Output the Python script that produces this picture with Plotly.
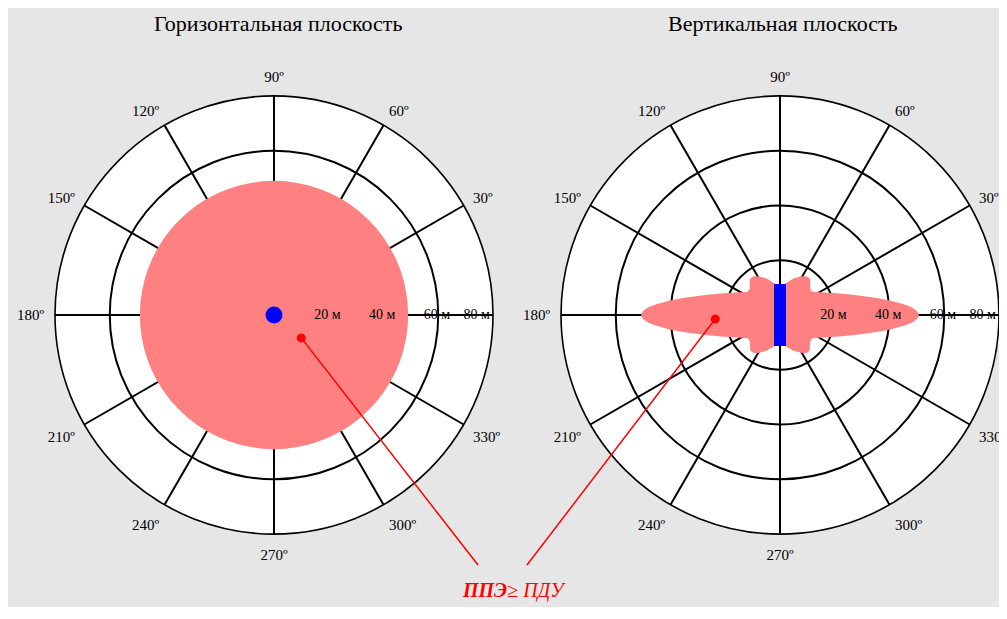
import math
import plotly.graph_objects as go

# ---------------- data ----------------
left_title = "Горизонтальная плоскость"
right_title = "Вертикальная плоскость"
note_text = "<b><i>ППЭ</i></b>≥ <i>ПДУ</i>"

angle_ticks = [0, 30, 60, 90, 120, 150, 180, 210, 240, 270, 300, 330]
angle_labels = ["", "30º", "60º", "90º", "120º", "150º", "180º", "210º", "240º", "270º", "300º", "330º"]
radial_ticks = [20, 40, 60, 80]
radial_labels = ["20 м", "40 м", "60 м", "80 м"]
radial_label_r = [19.5, 39.5, 59.5, 74]
radial_max = 80

# horizontal plane: zone where PPE >= PDU (circle, ~49 m)
h_theta = list(range(0, 361, 5))
h_r = [49] * len(h_theta)

# vertical plane: zone where PPE >= PDU (metres at each angle)
v_theta = [0, 1, 2, 3, 4, 5, 7.5, 10, 15, 20, 25, 30, 35, 40, 45, 50, 55, 60, 65, 70, 75, 80, 85,
           90,
           95, 100, 105, 110, 115, 120, 125, 130, 135, 140, 145, 150, 155, 160, 165, 170, 172.5, 175, 176, 177, 178, 179,
           180,
           181, 182, 183, 184, 185, 187.5, 190, 195, 200, 205, 210, 215, 220, 225, 230, 235, 240, 245, 250, 255, 260, 265,
           270,
           275, 280, 285, 290, 295, 300, 305, 310, 315, 320, 325, 330, 335, 340, 345, 350, 352.5, 355, 356, 357, 358, 359,
           360]
v_r = [50.7, 50.45, 49.7, 48.6, 47.1, 45.3, 40.6, 35.9, 28.3, 23.0, 19.3, 16.7, 14.7, 14.5, 15.6, 17.2, 17.2, 16.3, 15.2, 14.2, 12.8, 11.8, 11.2,
       11.0,
       11.2, 11.8, 12.8, 14.2, 15.2, 16.3, 17.2, 17.2, 15.6, 14.5, 14.7, 16.7, 19.3, 23.0, 28.3, 35.9, 40.6, 45.3, 47.1, 48.6, 49.7, 50.45,
       50.7,
       50.45, 49.7, 48.6, 47.1, 45.3, 40.6, 35.9, 28.3, 23.0, 19.3, 16.7, 14.7, 14.5, 15.5, 16.9, 16.9, 16.0, 14.8, 13.8, 12.5, 11.6, 11.1,
       11.0,
       11.1, 11.6, 12.5, 13.8, 14.8, 16.0, 16.9, 16.9, 15.5, 14.5, 14.7, 16.7, 19.3, 23.0, 28.3, 35.9, 40.6, 45.3, 47.1, 48.6, 49.7, 50.45,
       50.7]

# antenna (vertical plane) half-length, m
antenna_r = [11.3, 0, 11.3]
antenna_theta = [90, 0, 270]

# pointer dots (r in m, theta in deg)
h_point = (13, 320)
v_point = (23.7, 183.6)

# ---------------- layout geometry (figure pixels) ----------------
W, H = 999, 599
R_px = 219
centers_px = [(266, 307), (772, 307)]
note_px = (506, 582)
left_leader_end_px = (470, 557)
right_leader_end_px = (519, 557)

def domain(cx, cy):
    return dict(x=[(cx - R_px) / W, (cx + R_px) / W],
                y=[1 - (cy + R_px) / H, 1 - (cy - R_px) / H])

def px_to_paper(p):
    return p[0] / W, 1 - p[1] / H

fill_col = "rgb(255,128,128)"
serif = "Liberation Serif"

fig = go.Figure()

# horizontal plane
fig.add_trace(go.Scatterpolar(r=h_r, theta=h_theta, mode="lines", fill="toself",
                              fillcolor=fill_col, line=dict(width=0, color=fill_col),
                              subplot="polar", hoverinfo="skip"))
fig.add_trace(go.Scatterpolar(r=[0], theta=[0], mode="markers",
                              marker=dict(size=17, color="blue"), subplot="polar"))
fig.add_trace(go.Scatterpolar(r=[h_point[0]], theta=[h_point[1]], mode="markers",
                              marker=dict(size=9, color="red"), subplot="polar"))
fig.add_trace(go.Scatterpolar(r=radial_label_r, theta=[0] * len(radial_label_r), mode="text",
                              text=radial_labels, textposition="middle center",
                              textfont=dict(family=serif, size=14, color="black"),
                              subplot="polar"))

# vertical plane
fig.add_trace(go.Scatterpolar(r=v_r, theta=v_theta, mode="lines", fill="toself",
                              fillcolor=fill_col, line=dict(width=0, color=fill_col),
                              subplot="polar2", hoverinfo="skip"))
fig.add_trace(go.Scatterpolar(r=antenna_r, theta=antenna_theta, mode="lines",
                              line=dict(width=12, color="blue"), subplot="polar2"))
fig.add_trace(go.Scatterpolar(r=[v_point[0]], theta=[v_point[1]], mode="markers",
                              marker=dict(size=9, color="red"), subplot="polar2"))
fig.add_trace(go.Scatterpolar(r=radial_label_r, theta=[0] * len(radial_label_r), mode="text",
                              text=radial_labels, textposition="middle center",
                              textfont=dict(family=serif, size=14, color="black"),
                              subplot="polar2"))

def polar_cfg(cx, cy):
    return dict(
        domain=domain(cx, cy),
        bgcolor="white",
        radialaxis=dict(range=[0, radial_max], tickvals=radial_ticks[:-1], showticklabels=False,
                        ticks="", showline=False, gridcolor="black", gridwidth=1.6,
                        layer="above traces"),
        angularaxis=dict(tickvals=angle_ticks, ticktext=angle_labels,
                         ticks="outside", ticklen=7, tickcolor="rgba(0,0,0,0)",
                         showline=True, linecolor="black", linewidth=1.6,
                         gridcolor="black", gridwidth=1.6, direction="counterclockwise",
                         rotation=0, layer="above traces",
                         tickfont=dict(family=serif, size=15, color="black")),
    )

def to_paper(idx, r, th):
    cx, cy = centers_px[idx]
    rp = r / radial_max * R_px
    px = cx + rp * math.cos(math.radians(th))
    py = cy - rp * math.sin(math.radians(th))
    return px_to_paper((px, py))

hp = to_paper(0, *h_point)
vp = to_paper(1, *v_point)
le = px_to_paper(left_leader_end_px)
re_ = px_to_paper(right_leader_end_px)
nt = px_to_paper(note_px)

shapes = [
    dict(type="line", xref="paper", yref="paper", x0=hp[0], y0=hp[1], x1=le[0], y1=le[1],
         line=dict(color="red", width=1.5)),
    dict(type="line", xref="paper", yref="paper", x0=vp[0], y0=vp[1], x1=re_[0], y1=re_[1],
         line=dict(color="red", width=1.5)),
]

annotations = [
    dict(text=left_title, x=270 / W, y=1 - 15 / H, xref="paper", yref="paper", showarrow=False,
         font=dict(family=serif, size=22, color="black"), xanchor="center", yanchor="middle"),
    dict(text=right_title, x=775 / W, y=1 - 15 / H, xref="paper", yref="paper", showarrow=False,
         font=dict(family=serif, size=22, color="black"), xanchor="center", yanchor="middle"),
    dict(text=note_text, x=nt[0], y=nt[1], xref="paper", yref="paper", showarrow=False,
         font=dict(family=serif, size=20, color="red"), xanchor="center", yanchor="middle"),
]

fig.update_layout(
    width=W, height=H,
    margin=dict(l=0, r=0, t=0, b=0),
    paper_bgcolor="#e6e6e6",
    showlegend=False,
    polar=polar_cfg(*centers_px[0]),
    polar2=polar_cfg(*centers_px[1]),
    shapes=shapes,
    annotations=annotations,
)

fig.write_html("out.html",
               post_script="document.documentElement.style.overflow='hidden';"
                           "document.body.style.overflow='hidden';")
